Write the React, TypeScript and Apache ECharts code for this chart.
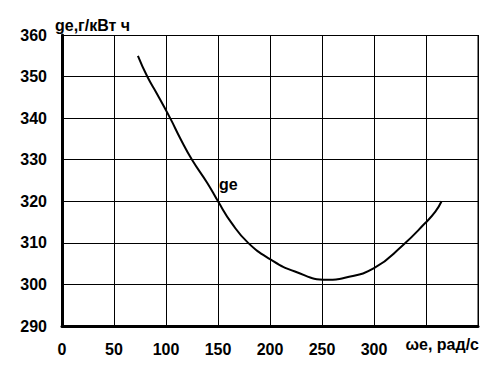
import React, { useEffect, useRef } from "react";
import * as echarts from "echarts";

const omega = [73, 82, 91, 104, 114, 125, 140, 150, 163, 179, 200, 224, 255, 272, 300, 328, 349, 359, 365];
const ge = [355, 350, 346, 340, 335, 330, 324.3, 320, 314.8, 310, 306.1, 303.1, 301.1, 301.6, 303.9, 309.5, 314.7, 317.5, 320];
const xTicks = [0, 50, 100, 150, 200, 250, 300];
const seriesLabel = "ge";
const labelPos = [160, 324];
const yName = "ge,г/кВт ч";
const xName = "ωe, рад/с";

const FONT = "'Liberation Sans', Arial, sans-serif";

export default function App() {
  const ref = useRef<HTMLDivElement>(null);
  useEffect(() => {
    const chart = echarts.init(ref.current!, null, { renderer: "svg" });
    chart.setOption({
      animation: false,
      backgroundColor: "#ffffff",
      grid: { left: 62, top: 35, right: 26, bottom: 44, show: false },
      xAxis: {
        type: "value",
        min: 0,
        max: 400,
        interval: 50,
        axisLine: { show: true, onZero: false, lineStyle: { color: "#000", width: 3 } },
        axisTick: { show: false },
        axisLabel: {
          color: "#000",
          fontFamily: FONT,
          fontWeight: "bold",
          fontSize: 16,
          margin: 15,
          formatter: (v: number) => (xTicks.includes(v) ? String(v) : ""),
        },
        splitLine: { show: true, lineStyle: { color: "#000", width: 1 } },
      },
      yAxis: {
        type: "value",
        min: 290,
        max: 360,
        interval: 10,
        axisLine: { show: true, onZero: false, lineStyle: { color: "#000", width: 3 } },
        axisTick: { show: false },
        axisLabel: {
          color: "#000",
          fontFamily: FONT,
          fontWeight: "bold",
          fontSize: 16,
          margin: 15,
        },
        splitLine: { show: true, lineStyle: { color: "#000", width: 1 } },
      },
      graphic: [
        {
          type: "line",
          shape: { x1: 478, y1: 35, x2: 478, y2: 326 },
          style: { stroke: "#000", lineWidth: 1 },
        },
        {
          type: "text",
          left: 55,
          top: 17,
          style: { text: yName, fill: "#000", font: `bold 16px ${FONT}` },
        },
        {
          type: "text",
          right: 25,
          top: 336,
          style: { text: xName, fill: "#000", font: `bold 16px ${FONT}` },
        },
      ],
      series: [
        {
          type: "line",
          data: omega.map((x, i) => [x, ge[i]]),
          smooth: 0.5,
          showSymbol: false,
          symbol: "none",
          lineStyle: { color: "#000", width: 2 },
          markPoint: {
            symbol: "circle",
            symbolSize: 1,
            itemStyle: { color: "transparent" },
            label: {
              show: true,
              position: "inside",
              color: "#000",
              fontFamily: FONT,
              fontWeight: "bold",
              fontSize: 16,
              formatter: seriesLabel,
            },
            data: [{ coord: labelPos }],
          },
        },
      ],
    });
    return () => chart.dispose();
  }, []);
  return <div ref={ref} style={{ width: 504, height: 370, margin: -8 }} />;
}
